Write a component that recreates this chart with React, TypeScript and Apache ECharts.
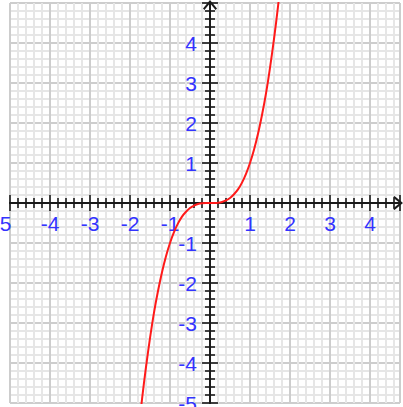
import React, { useEffect, useRef } from "react";
import * as echarts from "echarts";

// Curve points (x, y)
const curveX = [
  -1.8, -1.7, -1.6, -1.5, -1.4, -1.3, -1.2, -1.1, -1.0, -0.9, -0.8, -0.7, -0.6, -0.5, -0.4, -0.3, -0.2, -0.1,
  0, 0.1, 0.2, 0.3, 0.4, 0.5, 0.6, 0.7, 0.8, 0.9, 1.0, 1.1, 1.2, 1.3, 1.4, 1.5, 1.6, 1.7, 1.8,
];
const curveY = [
  -5.83, -4.91, -4.1, -3.38, -2.74, -2.2, -1.73, -1.33, -1.0, -0.73, -0.51, -0.34, -0.22, -0.125, -0.064, -0.027, -0.008, -0.001,
  0, 0.001, 0.008, 0.027, 0.064, 0.125, 0.22, 0.34, 0.51, 0.73, 1.0, 1.33, 1.73, 2.2, 2.74, 3.38, 4.1, 4.91, 5.83,
];

const xRange = [-5, 4.75];
const yRange = [-5, 5];
const hiddenXLabels = [0];
const hiddenYLabels = [0, 5];

const LABEL_COLOR = "#3333ff";
const AXIS_COLOR = "#1a1a1a";
const MAJOR_GRID = "#cdcdcd";
const MINOR_GRID = "#e6e6e6";

const W = 403;
const H = 407;
const G_LEFT = 10;
const G_RIGHT = 3;
const G_TOP = 3;
const G_BOTTOM = 4;

const chevron = "path://M0,0 L7,8.5 L5.6,10 L0,3.2 L-5.6,10 L-7,8.5 Z";

export default function App() {
  const ref = useRef<HTMLDivElement>(null);
  useEffect(() => {
    document.body.style.margin = "0";
    const chart = echarts.init(ref.current!, null, { renderer: "svg" });
    const fmtX = (v: number) => {
      if (!Number.isInteger(v) || hiddenXLabels.includes(v)) return "";
      return v === xRange[0] ? `{edge|${v}}` : String(v);
    };
    const fmtY = (v: number) =>
      Number.isInteger(v) && !hiddenYLabels.includes(v) ? String(v) : "";
    const labelStyle = {
      color: LABEL_COLOR,
      fontSize: 21,
      fontFamily: "Liberation Sans, Arial, sans-serif",
    };
    const gw = W - G_LEFT - G_RIGHT;
    const gh = H - G_TOP - G_BOTTOM;
    const zeroX = G_LEFT + ((0 - xRange[0]) / (xRange[1] - xRange[0])) * gw;
    const zeroY = G_TOP + ((yRange[1] - 0) / (yRange[1] - yRange[0])) * gh;

    const baseAxis = {
      type: "value",
      interval: 1,
      axisTick: { show: true, length: 8, lineStyle: { color: AXIS_COLOR, width: 1.6 } },
      minorTick: { show: true, splitNumber: 5, length: 5, lineStyle: { color: AXIS_COLOR, width: 1.6 } },
    };
    const line = (withArrow: boolean) => ({
      show: true,
      onZero: false,
      lineStyle: { color: AXIS_COLOR, width: 2 },
      ...(withArrow ? { symbol: ["none", chevron], symbolSize: [14, 10], symbolOffset: [0, -2] } : {}),
    });
    chart.setOption({
      animation: false,
      grid: { left: G_LEFT, right: G_RIGHT, top: G_TOP, bottom: G_BOTTOM, containLabel: false, outerBoundsMode: "none" },
      xAxis: [
        {
          ...baseAxis,
          min: xRange[0],
          max: xRange[1],
          position: "bottom",
          offset: -(H - G_BOTTOM - zeroY),
          axisLine: line(true),
          axisLabel: {
            ...labelStyle,
            margin: 10,
            formatter: fmtX,
            showMinLabel: true,
            showMaxLabel: true,
            hideOverlap: false,
            rich: { edge: { ...labelStyle, padding: [0, 16, 0, 0] } },
          },
          splitLine: { show: true, lineStyle: { color: MAJOR_GRID, width: 2 } },
          minorSplitLine: { show: true, lineStyle: { color: MINOR_GRID, width: 2 } },
        },
        {
          ...baseAxis,
          min: xRange[0],
          max: xRange[1],
          position: "top",
          offset: -(zeroY - G_TOP),
          axisLine: line(false),
          axisLabel: { show: false },
          splitLine: { show: false },
          minorSplitLine: { show: false },
        },
      ],
      yAxis: [
        {
          ...baseAxis,
          min: yRange[0],
          max: yRange[1],
          position: "left",
          offset: -(zeroX - G_LEFT),
          axisLine: line(true),
          axisLabel: { ...labelStyle, margin: 13, formatter: fmtY, showMinLabel: true, showMaxLabel: true, hideOverlap: false },
          splitLine: { show: true, lineStyle: { color: MAJOR_GRID, width: 2 } },
          minorSplitLine: { show: true, lineStyle: { color: MINOR_GRID, width: 2 } },
        },
        {
          ...baseAxis,
          min: yRange[0],
          max: yRange[1],
          position: "right",
          offset: -(W - G_RIGHT - zeroX),
          axisLine: line(false),
          axisLabel: { show: false },
          splitLine: { show: false },
          minorSplitLine: { show: false },
        },
      ],
      series: [
        {
          type: "line",
          xAxisIndex: 0,
          yAxisIndex: 0,
          data: curveX.map((x, i) => [x, curveY[i]]),
          smooth: 0.3,
          showSymbol: false,
          clip: true,
          lineStyle: { color: "#ff1a1a", width: 2 },
          z: 5,
        },
      ],
    });
    return () => chart.dispose();
  }, []);
  return (
    <div
      ref={ref}
      style={{ position: "absolute", left: 0, top: 0, width: W, height: H }}
    />
  );
}
